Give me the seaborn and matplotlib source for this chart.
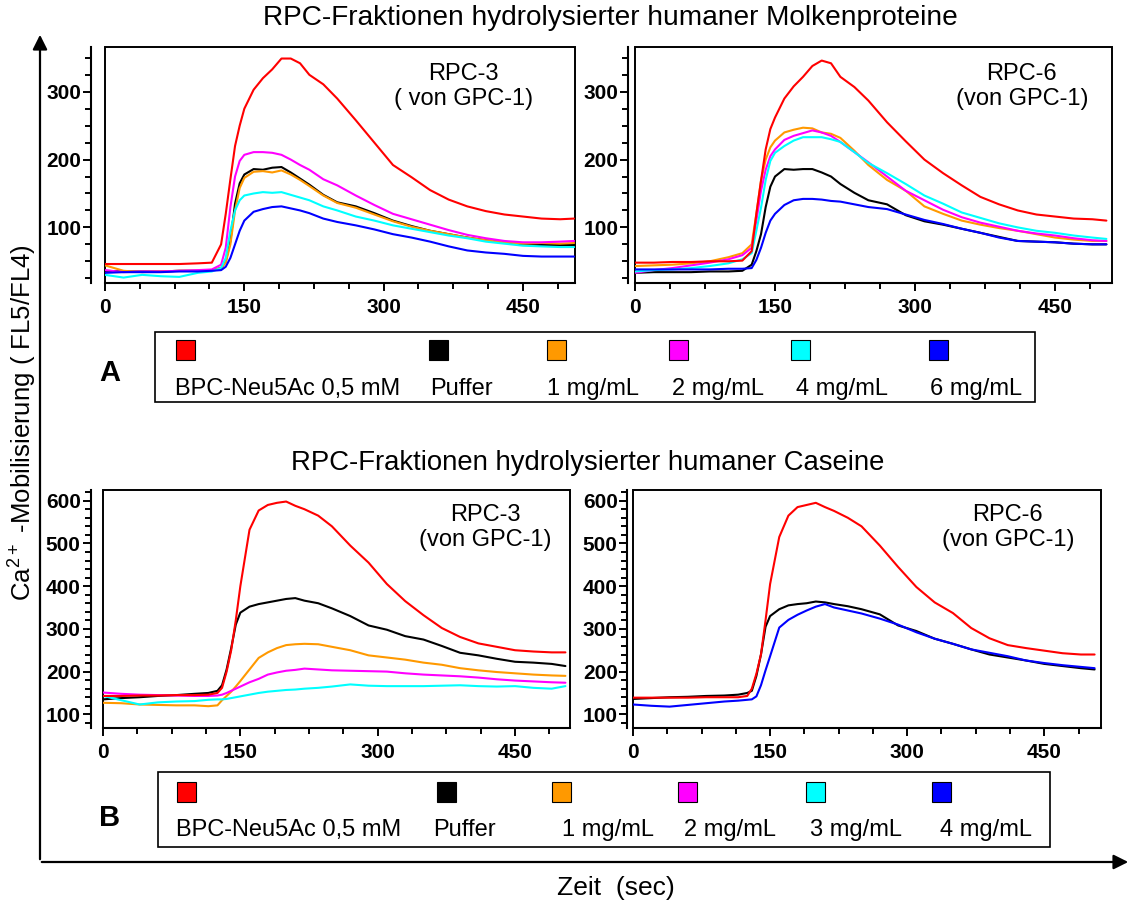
import pandas as pd
import matplotlib
matplotlib.use('Agg')
import matplotlib.pyplot as plt
import seaborn as sns
from matplotlib.patches import Rectangle, FancyArrowPatch
from matplotlib.ticker import MultipleLocator

sns.set_theme(style='white')
plt.rcParams['font.family'] = ['Liberation Sans', 'DejaVu Sans']
plt.rcParams['mathtext.fontset'] = 'custom'
plt.rcParams['mathtext.rm'] = 'Liberation Sans'
plt.rcParams['text.color'] = 'black'

# --- data ---
zeit = [0, 20, 40, 60, 80, 100, 115, 125, 130, 135, 140, 145, 150, 160, 170, 180, 190,
        200, 210, 220, 235, 250, 270, 290, 310, 330, 350, 370, 390, 410, 430, 450, 470, 490, 505]

labels_a = ['BPC-Neu5Ac 0,5 mM', 'Puffer', '1 mg/mL', '2 mg/mL', '4 mg/mL', '6 mg/mL']
labels_b = ['BPC-Neu5Ac 0,5 mM', 'Puffer', '1 mg/mL', '2 mg/mL', '3 mg/mL', '4 mg/mL']

# A: Molkenproteine, RPC-3
a3_bpc = [46, 46, 46, 46, 46, 47, 48, 75, 120, 171, 220, 250, 275, 303, 320, 333, 349, 349, 342, 325,
          311, 290, 258, 225, 192, 174, 155, 141, 131, 124, 119, 116, 113, 112, 113]
a3_puffer = [36, 35, 35, 35, 36, 36, 37, 40, 50, 80, 135, 165, 178, 186, 185, 188, 189, 181, 172, 163,
             148, 137, 131, 121, 110, 102, 95, 90, 85, 81, 78, 75, 74, 74, 74]
a3_c1 = [44, 36, 34, 35, 36, 36, 37, 40, 48, 75, 125, 158, 173, 182, 183, 181, 184, 178, 170, 161,
         147, 136, 129, 119, 109, 101, 95, 90, 85, 81, 78, 76, 77, 76, 77]
a3_c2 = [37, 34, 35, 35, 36, 37, 38, 45, 70, 130, 175, 198, 207, 211, 211, 210, 207, 200, 192, 185,
         171, 162, 147, 133, 120, 112, 104, 96, 89, 84, 80, 78, 78, 79, 80]
a3_c4 = [30, 26, 30, 28, 27, 33, 35, 40, 55, 95, 125, 140, 147, 150, 152, 151, 152, 148, 144, 140,
         131, 125, 116, 110, 103, 98, 93, 88, 84, 79, 76, 73, 72, 71, 71]
a3_c6 = [33, 34, 34, 34, 35, 35, 36, 37, 42, 55, 75, 95, 110, 123, 127, 130, 131, 128, 125, 121,
         113, 108, 103, 97, 90, 85, 79, 72, 66, 63, 61, 58, 57, 57, 57]

# A: Molkenproteine, RPC-6
a6_bpc = [48, 48, 49, 49, 50, 50, 51, 65, 120, 169, 215, 245, 262, 290, 308, 322, 338, 346, 342, 322,
          307, 287, 255, 227, 200, 180, 162, 145, 134, 125, 119, 116, 113, 112, 110]
a6_puffer = [33, 34, 34, 34, 35, 35, 36, 45, 65, 90, 130, 160, 175, 186, 185, 186, 186, 181, 175, 164,
             151, 140, 134, 118, 109, 104, 98, 92, 86, 80, 79, 78, 76, 75, 75]
a6_c1 = [43, 44, 45, 47, 50, 56, 62, 75, 120, 169, 200, 218, 228, 240, 244, 247, 246, 240, 238, 232,
         213, 192, 170, 154, 131, 120, 110, 104, 99, 95, 90, 85, 82, 80, 80]
a6_c2 = [33, 37, 40, 44, 48, 53, 59, 70, 110, 154, 185, 205, 215, 229, 235, 239, 243, 240, 235, 226,
         211, 196, 175, 154, 140, 126, 115, 107, 101, 95, 91, 88, 84, 81, 80]
a6_c4 = [35, 37, 38, 40, 43, 47, 53, 62, 95, 129, 170, 198, 210, 220, 228, 233, 233, 233, 230, 226,
         211, 195, 180, 164, 147, 135, 122, 114, 106, 100, 95, 92, 88, 85, 83]
a6_c6 = [38, 38, 38, 38, 38, 39, 39, 40, 52, 70, 92, 110, 120, 133, 140, 142, 142, 141, 139, 138,
         134, 130, 127, 119, 111, 105, 98, 92, 85, 80, 79, 78, 76, 75, 75]

# B: Caseine, RPC-3
b3_bpc = [143, 143, 144, 144, 145, 145, 146, 150, 162, 200, 250, 320, 400, 532, 577, 590, 595, 598, 588, 580,
          565, 540, 495, 455, 405, 365, 332, 302, 281, 266, 258, 250, 247, 245, 245]
b3_puffer = [135, 138, 140, 143, 145, 148, 150, 155, 168, 205, 255, 310, 338, 352, 358, 362, 366, 370, 372, 366,
             360, 348, 330, 308, 298, 283, 275, 260, 244, 238, 230, 223, 221, 218, 213]
b3_c1 = [127, 126, 123, 122, 121, 121, 119, 121, 133, 143, 153, 165, 178, 205, 232, 245, 255, 262, 264, 265,
         264, 258, 250, 238, 233, 228, 221, 216, 208, 203, 199, 196, 193, 191, 190]
b3_c2 = [151, 148, 146, 145, 144, 143, 143, 144, 146, 150, 155, 160, 165, 175, 183, 193, 198, 202, 204, 207,
         205, 203, 202, 201, 200, 196, 193, 191, 189, 186, 182, 179, 177, 175, 174]
b3_c3 = [143, 133, 123, 128, 130, 131, 134, 135, 135, 136, 138, 140, 142, 146, 150, 153, 155, 157, 158, 160,
         162, 165, 170, 167, 166, 166, 166, 167, 168, 166, 165, 166, 162, 160, 166]

# B: Caseine, RPC-6
b6_bpc = [139, 139, 139, 139, 140, 140, 140, 143, 160, 195, 240, 320, 405, 515, 565, 585, 590, 595, 585, 576,
          560, 540, 495, 445, 398, 362, 337, 302, 278, 262, 255, 249, 243, 240, 240]
b6_puffer = [136, 138, 140, 141, 143, 144, 146, 150, 155, 190, 240, 305, 330, 346, 355, 358, 360, 364, 362, 358,
             353, 346, 334, 308, 295, 277, 265, 252, 240, 233, 226, 218, 213, 208, 205]
b6_c4 = [123, 120, 118, 122, 126, 130, 132, 134, 135, 142, 168, 203, 236, 303, 321, 333, 343, 352, 358, 350,
         343, 336, 324, 310, 292, 277, 265, 252, 244, 236, 226, 220, 215, 211, 208]

farben = ['#ff0000', '#000000', '#ff9900', '#ff00ff', '#00ffff', '#0000ff']

W, H = 1132, 905
fig = plt.figure(figsize=(W / 100, H / 100), dpi=100)


def px_rect(x0, y0, x1, y1):
    return [x0 / W, 1 - y1 / H, (x1 - x0) / W, (y1 - y0) / H]


def draw_panel(rect, series, labels, colors, xmax, ylim, yticks, yminor, note, note_pos, offset):
    ax = fig.add_axes(rect)
    rows = []
    for lab, vals in zip(labels, series):
        for t, v in zip(zeit, vals):
            rows.append({'zeit': t, 'wert': v, 'probe': lab})
    df = pd.DataFrame(rows)
    # draw order: coloured concentrations first, positive control last
    order = labels[1:] + labels[:1]
    pal = dict(zip(labels, colors))
    sns.lineplot(data=df, x='zeit', y='wert', hue='probe', hue_order=order, palette=pal,
                 estimator=None, sort=False, legend=False, linewidth=1.5, ax=ax)

    # spine position first: moving a spine resets the ticks
    for s in ['top', 'right']:
        ax.spines[s].set_visible(False)
    for s in ['left', 'bottom']:
        ax.spines[s].set_color('black')
        ax.spines[s].set_linewidth(1.5)
    ax.spines['left'].set_position(('outward', offset))

    ax.set_xlim(0, xmax)
    ax.set_ylim(*ylim)
    ax.set_xlabel('')
    ax.set_ylabel('')
    ax.tick_params(which='both', bottom=True, left=True, direction='out', color='black',
                   width=1.4, labelcolor='black')
    ax.tick_params(which='major', length=6)
    ax.tick_params(which='minor', length=4)
    ax.tick_params(axis='y', pad=1)
    ax.tick_params(axis='x', pad=5)
    ax.set_xticks([0, 150, 300, 450])
    ax.set_xticklabels(['0', '150', '300', '450'], fontweight='bold', fontsize=15)
    ax.xaxis.set_minor_locator(MultipleLocator(37.5))
    ax.set_yticks(yticks)
    ax.set_yticklabels([str(v) for v in yticks], fontweight='bold', fontsize=15)
    ax.yaxis.set_minor_locator(MultipleLocator(yminor))

    ax.add_patch(Rectangle((0, 0), 1, 1, transform=ax.transAxes, fill=False,
                           ec='black', lw=1.4, clip_on=False))
    ax.text(note_pos[0], note_pos[1], note, transform=ax.transAxes, ha='center', va='center',
            fontsize=17, linespacing=1.15, color='black')
    return ax


draw_panel(px_rect(105, 47, 575, 283), [a3_bpc, a3_puffer, a3_c1, a3_c2, a3_c4, a3_c6], labels_a, farben,
           506, (18, 366), [100, 200, 300], 25, 'RPC-3\n( von GPC-1)', (0.762, 0.833), 10)
draw_panel(px_rect(635, 47, 1112, 283), [a6_bpc, a6_puffer, a6_c1, a6_c2, a6_c4, a6_c6], labels_a, farben,
           511, (18, 366), [100, 200, 300], 25, 'RPC-6\n(von GPC-1)', (0.811, 0.833), 5)
draw_panel(px_rect(103, 490, 570, 728), [b3_bpc, b3_puffer, b3_c1, b3_c2, b3_c3], labels_b[:5], farben[:5],
           510, (68, 625), [100, 200, 300, 400, 500, 600], 20, 'RPC-3\n(von GPC-1)', (0.818, 0.842), 9)
draw_panel(px_rect(633, 490, 1101, 728), [b6_bpc, b6_puffer, b6_c4], [labels_b[0], labels_b[1], labels_b[5]],
           [farben[0], farben[1], farben[5]], 512, (68, 625), [100, 200, 300, 400, 500, 600], 20,
           'RPC-6\n(von GPC-1)', (0.801, 0.842), 4)

# titles
fig.text(610 / W, 1 - 18 / H, 'RPC-Fraktionen hydrolysierter humaner Molkenproteine',
         ha='center', va='center', fontsize=20.2)
fig.text(588 / W, 1 - 463 / H, 'RPC-Fraktionen hydrolysierter humaner Caseine',
         ha='center', va='center', fontsize=19.8)


# legends
def draw_legend(box, labels, colors, sq_x, txt_x, sq_y, txt_y, tag, tag_y):
    x0, y0, x1, y1 = box
    fig.add_artist(Rectangle((x0 / W, 1 - y1 / H), (x1 - x0) / W, (y1 - y0) / H,
                             transform=fig.transFigure, fill=False, ec='black', lw=1.2))
    for lab, col, sx, tx in zip(labels, colors, sq_x, txt_x):
        fig.add_artist(Rectangle((sx / W, 1 - (sq_y + 20) / H), 19 / W, 20 / H,
                                 transform=fig.transFigure, fc=col, ec='black', lw=0.8))
        fig.text(tx / W, 1 - txt_y / H, lab, ha='left', va='center', fontsize=17)
    fig.text(110 / W, 1 - tag_y / H, tag, ha='center', va='center', fontsize=21, fontweight='bold')


draw_legend((155, 332, 1035, 402), labels_a, farben,
            [176, 429, 547, 669, 791, 929], [175, 430, 547, 672, 796, 930], 340, 389, 'A', 373)
draw_legend((158, 772, 1050, 847), labels_b, farben,
            [177, 437, 552, 678, 806, 932], [176, 433, 562, 684, 810, 940], 782, 830, 'B', 818)

# big axis arrows
fig.add_artist(FancyArrowPatch((40 / W, 1 - 862 / H), (40 / W, 1 - 32 / H), transform=fig.transFigure,
                               arrowstyle='-|>', mutation_scale=22, lw=1.6, color='black'))
fig.add_artist(FancyArrowPatch((39 / W, 1 - 862 / H), (1131 / W, 1 - 862 / H), transform=fig.transFigure,
                               arrowstyle='-|>', mutation_scale=22, lw=1.6, color='black'))

fig.text(22 / W, 1 - 423 / H, r'Ca$^{\mathregular{2+}}$ -Mobilisierung ( FL5/FL4)', rotation=90,
         ha='center', va='center', fontsize=18.5)
fig.text(616 / W, 1 - 888 / H, 'Zeit  (sec)', ha='center', va='center', fontsize=19)

fig.savefig('out.png', dpi=100)
